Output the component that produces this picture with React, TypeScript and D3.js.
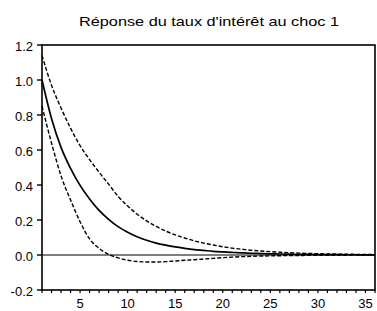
import React from "react";
import * as d3 from "d3";

const periods: number[] = d3.range(1, 37);
const response: number[] = [
  1.0, 0.78, 0.615, 0.495, 0.398, 0.32, 0.255, 0.204, 0.162, 0.13, 0.104,
  0.084, 0.068, 0.056, 0.046, 0.038, 0.031, 0.026, 0.021, 0.0175, 0.0145,
  0.012, 0.01, 0.0083, 0.0069, 0.0057, 0.0047, 0.0039, 0.0032, 0.0027, 0.0022,
  0.0018, 0.0015, 0.0013, 0.0011, 0.0009,
];
const upperBand: number[] = [
  1.14, 0.97, 0.84, 0.725, 0.625, 0.545, 0.473, 0.405, 0.335, 0.28, 0.233,
  0.195, 0.163, 0.137, 0.115, 0.097, 0.081, 0.068, 0.057, 0.047, 0.039, 0.033,
  0.027, 0.023, 0.019, 0.016, 0.013, 0.011, 0.009, 0.0075, 0.0063, 0.0053,
  0.0045, 0.0038, 0.0032, 0.0027,
];
const lowerBand: number[] = [
  0.85, 0.64, 0.452, 0.315, 0.19, 0.092, 0.038, 0.004, -0.016, -0.03, -0.037,
  -0.04, -0.04, -0.038, -0.034, -0.03, -0.027, -0.023, -0.019, -0.015, -0.012,
  -0.0095, -0.0075, -0.006, -0.005, -0.004, -0.0033, -0.0027, -0.0022,
  -0.0018, -0.0015, -0.0012, -0.001, -0.0009, -0.0008, -0.0007,
];
const yTicks: number[] = [-0.2, 0.0, 0.2, 0.4, 0.6, 0.8, 1.0, 1.2];
const xTicks: number[] = [5, 10, 15, 20, 25, 30, 35];
const title = "Réponse du taux d'intérêt au choc 1";

const W = 377;
const H = 311;
const left = 42;
const right = 375;
const top = 45;
const bottom = 290;

export default function App() {
  const x = d3.scaleLinear().domain([1, 36]).range([left, right]);
  const y = d3.scaleLinear().domain([-0.2, 1.2]).range([bottom, top]);
  const line = (vals: number[]) =>
    d3
      .line<number>()
      .x((_, i) => x(periods[i]))
      .y((d) => y(d))
      .curve(d3.curveMonotoneX)(vals) as string;
  const font = "'Liberation Sans', Arial, sans-serif";
  const minor = d3.range(1, 37);
  return (
    <svg
      width={W}
      height={H}
      style={{ position: "absolute", left: 0, top: 0, background: "#fff" }}
      fontFamily={font}
    >
      <rect x={0} y={0} width={W} height={H} fill="#fff" />
      <text
        x={209}
        y={25.5}
        textAnchor="middle"
        fontSize={13.5}
        fill="#000"
        textLength={260}
        lengthAdjust="spacingAndGlyphs"
      >
        {title}
      </text>
      <line x1={left} x2={right} y1={y(0)} y2={y(0)} stroke="#000" strokeWidth={1.2} />
      <path d={line(upperBand)} fill="none" stroke="#000" strokeWidth={1.4} strokeDasharray="4,2" />
      <path d={line(lowerBand)} fill="none" stroke="#000" strokeWidth={1.4} strokeDasharray="4,2" />
      <path d={line(response)} fill="none" stroke="#000" strokeWidth={1.7} />
      <rect x={left} y={top} width={right - left} height={bottom - top} fill="none" stroke="#000" strokeWidth={1.6} />
      {yTicks.map((t) => (
        <g key={t}>
          <line x1={left - 5} x2={left} y1={y(t)} y2={y(t)} stroke="#000" strokeWidth={1.4} />
          <text x={left - 9} y={y(t) + 1} dy="0.35em" textAnchor="end" fontSize={13} fill="#000">
            {t.toFixed(1)}
          </text>
        </g>
      ))}
      {minor.map((t) => (
        <line key={t} x1={x(t)} x2={x(t)} y1={bottom} y2={bottom + 3} stroke="#000" strokeWidth={1.2} />
      ))}
      {xTicks.map((t) => (
        <text key={t} x={x(t)} y={308} textAnchor="middle" fontSize={13} fill="#000">
          {t}
        </text>
      ))}
    </svg>
  );
}
